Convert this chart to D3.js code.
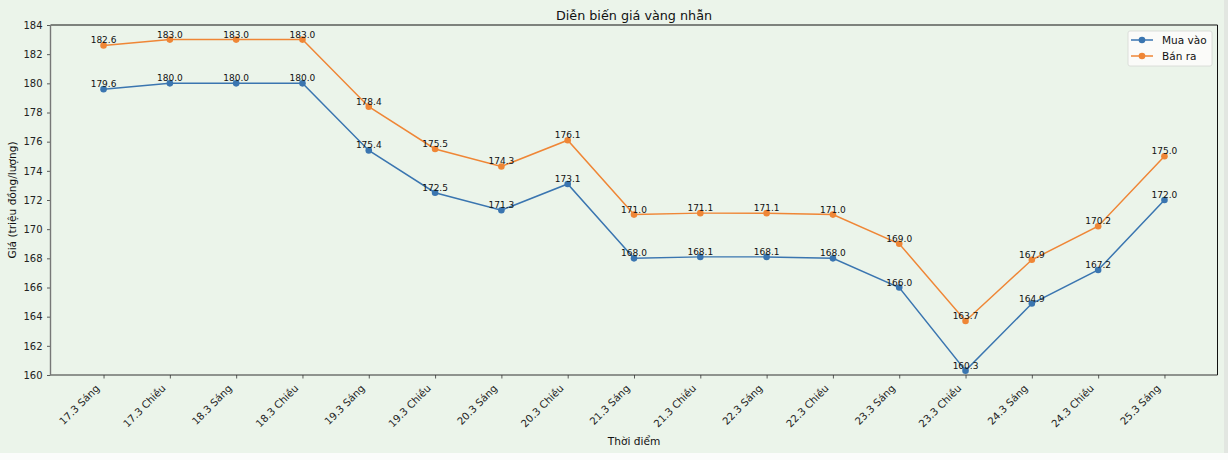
<!DOCTYPE html>
<html><head><meta charset="utf-8">
<script src="https://cdn.jsdelivr.net/npm/d3@7"></script>
<style>
html,body{margin:0;padding:0;background:#ebf4ea;}
svg{display:block;font-family:"DejaVu Sans",sans-serif;}
</style></head>
<body>
<svg id="c" width="1228" height="460"></svg>
<script>
const categories = ["17.3 Sáng","17.3 Chiều","18.3 Sáng","18.3 Chiều","19.3 Sáng","19.3 Chiều","20.3 Sáng","20.3 Chiều","21.3 Sáng","21.3 Chiều","22.3 Sáng","22.3 Chiều","23.3 Sáng","23.3 Chiều","24.3 Sáng","24.3 Chiều","25.3 Sáng"];
const muaVao = [179.6,180.0,180.0,180.0,175.4,172.5,171.3,173.1,168.0,168.1,168.1,168.0,166.0,160.3,164.9,167.2,172.0];
const banRa  = [182.6,183.0,183.0,183.0,178.4,175.5,174.3,176.1,171.0,171.1,171.1,171.0,169.0,163.7,167.9,170.2,175.0];
const yTicks = [160,162,164,166,168,170,172,174,176,178,180,182,184];
const seriesNames = ["Mua vào","Bán ra"];
const titleText = "Diễn biến giá vàng nhẫn";
const xLabel = "Thời điểm";
const yLabel = "Giá (triệu đồng/lượng)";

const svg = d3.select("#c");
const W = 1228, H = 460;
const L = 50.5, R = 1217.5, T = 25, B = 375;
const colors = ["#3a75b0","#ef8636"];

svg.append("rect").attr("x",0).attr("y",0).attr("width",W).attr("height",H).attr("fill","#ebf4ea");
svg.append("rect").attr("x",1224).attr("y",0).attr("width",4).attr("height",H).attr("fill","#e2e6e1");
svg.append("rect").attr("x",0).attr("y",453).attr("width",W).attr("height",7).attr("fill","#fbfcfb");

const x = d3.scaleLinear().domain([-0.8, categories.length - 1 + 0.8]).range([L, R]);
const y = d3.scaleLinear().domain([160,184]).range([B, T]);

// axes
const yAxis = svg.append("g").attr("transform",`translate(${L},0)`)
  .call(d3.axisLeft(y).tickValues(yTicks).tickSize(3.5).tickPadding(4.5).tickFormat(d3.format("d")));
yAxis.select(".domain").remove();
yAxis.selectAll("line").attr("stroke","#333").attr("stroke-width",0.8);
yAxis.selectAll("text").attr("font-size","10px").attr("fill","#222").attr("font-family","DejaVu Sans");

const xAxis = svg.append("g").attr("transform",`translate(0,${B})`)
  .call(d3.axisBottom(x).tickValues(d3.range(categories.length)).tickSize(3.5).tickFormat(i => categories[i]));
xAxis.select(".domain").remove();
xAxis.selectAll("line").attr("stroke","#333").attr("stroke-width",0.8);
xAxis.selectAll("text")
  .attr("font-size","10.2px").attr("fill","#222").attr("font-family","DejaVu Sans")
  .attr("text-anchor","end").attr("dy",null).attr("y",null)
  .attr("transform","translate(-4,14) rotate(-45)");

// spines
svg.append("line").attr("x1",L).attr("x2",R).attr("y1",T).attr("y2",T).attr("stroke","#111").attr("stroke-width",1);
svg.append("line").attr("x1",R).attr("x2",R).attr("y1",T).attr("y2",B).attr("stroke","#111").attr("stroke-width",1);
svg.append("line").attr("x1",L).attr("x2",R).attr("y1",B).attr("y2",B).attr("stroke","#333").attr("stroke-width",1);
svg.append("line").attr("x1",L).attr("x2",L).attr("y1",T).attr("y2",B).attr("stroke","#777").attr("stroke-width",1.4);

const seriesData = [muaVao, banRa];
const line = d3.line().x((d,i)=>x(i)).y(d=>y(d));
seriesData.forEach((vals, s) => {
  const g = svg.append("g");
  g.append("path").datum(vals).attr("d", line).attr("fill","none").attr("stroke",colors[s]).attr("stroke-width",1.5);
  g.selectAll("circle").data(vals).join("circle").attr("cx",(d,i)=>x(i)).attr("cy",d=>y(d)).attr("r",3.3).attr("fill",colors[s]);
  g.selectAll("text").data(vals).join("text")
    .attr("x",(d,i)=>x(i)).attr("y",d=>y(d)-2)
    .attr("text-anchor","middle").attr("font-size","9px").attr("fill","#111")
    .text(d=>d.toFixed(1));
});

// title & labels
svg.append("text").attr("x",(L+R)/2).attr("y",20).attr("text-anchor","middle").attr("font-size","12.75px").attr("fill","#111").text(titleText);
svg.append("text").attr("x",(L+R)/2).attr("y",445).attr("text-anchor","middle").attr("font-size","10.6px").attr("fill","#111").text(xLabel);
svg.append("text").attr("transform",`translate(15.5,${(T+B)/2}) rotate(-90)`).attr("text-anchor","middle").attr("font-size","10.6px").attr("fill","#111").text(yLabel);

// legend
const lg = svg.append("g").attr("transform","translate(1128,31)");
lg.append("rect").attr("width",84).attr("height",35).attr("rx",2).attr("fill","#fbfbf9").attr("stroke","#d6d8d4").attr("stroke-width",0.8);
seriesNames.forEach((n, s) => {
  const yy = 9 + s*16;
  lg.append("line").attr("x1",3).attr("x2",25).attr("y1",yy).attr("y2",yy).attr("stroke",colors[s]).attr("stroke-width",1.5);
  lg.append("circle").attr("cx",14).attr("cy",yy).attr("r",3.3).attr("fill",colors[s]);
  lg.append("text").attr("x",34).attr("y",yy+3.7).attr("font-size","10.5px").attr("fill","#111").text(n);
});
</script>
</body></html>
